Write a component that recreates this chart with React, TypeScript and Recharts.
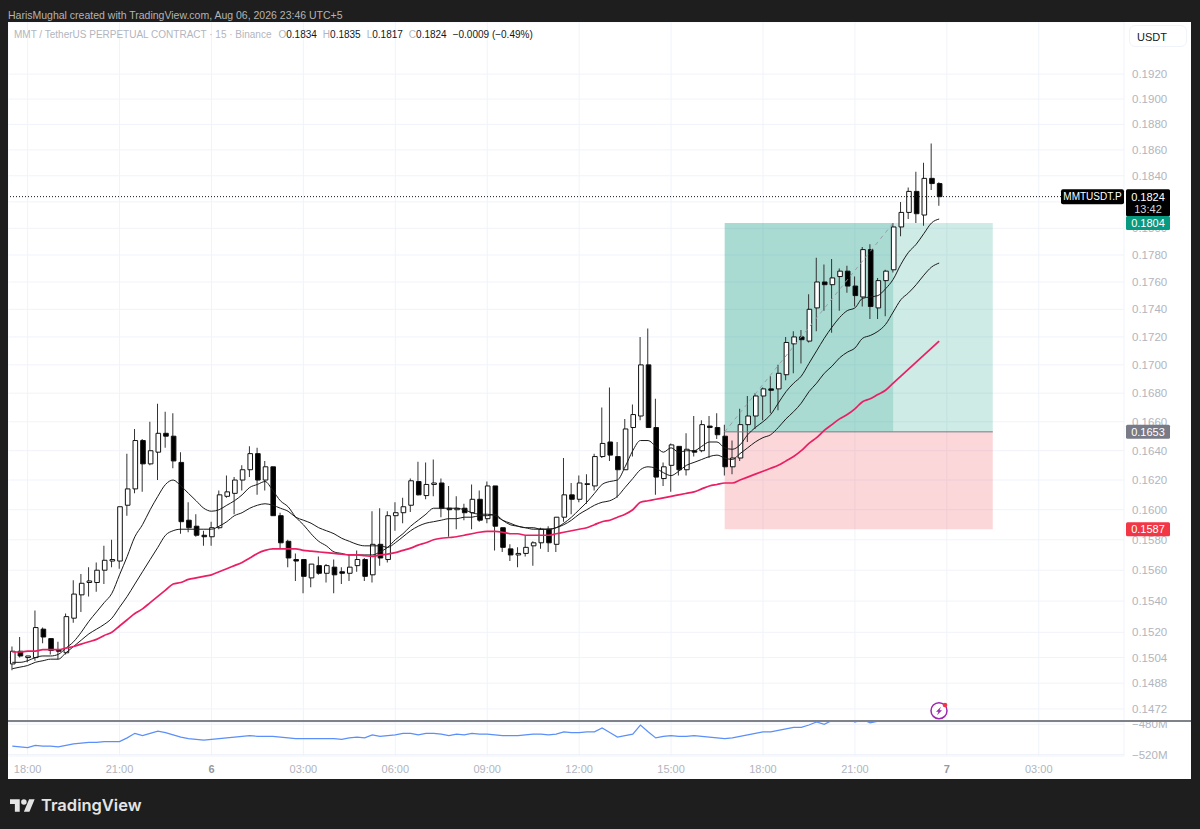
import {
  ComposedChart,
  LineChart,
  Bar,
  Cell,
  Line,
  XAxis,
  YAxis,
  CartesianGrid,
  ReferenceArea,
  ReferenceLine,
} from 'recharts';

const FONT = '"Liberation Sans", Arial, sans-serif';
const GRID = '#f0f3fa';
const AXIS_TEXT = '#b2b5be';

const opens = [
  0.15, 0.1508, 0.1504, 0.1504, 0.1522, 0.1516, 0.1509, 0.1507, 0.1529, 0.1544,
  0.1552, 0.1552, 0.156, 0.1566, 0.1566, 0.1603, 0.1614, 0.1647, 0.1631, 0.1639,
  0.1652, 0.165, 0.1632, 0.1593, 0.1589, 0.1583, 0.1582, 0.1588, 0.1609, 0.1611,
  0.162, 0.1627, 0.1638, 0.162, 0.1629, 0.1596, 0.1579, 0.1567, 0.1567, 0.1555,
  0.1563, 0.1558, 0.1562, 0.1559, 0.1558, 0.1563, 0.1567, 0.1557, 0.1577, 0.1567,
  0.1596, 0.1598, 0.1603, 0.1619, 0.16095, 0.1617, 0.1618, 0.1601, 0.16, 0.1601,
  0.1598, 0.1607, 0.1594, 0.1616, 0.1588, 0.1574, 0.157, 0.1571, 0.1576, 0.1578,
  0.1587, 0.1577, 0.1595, 0.161, 0.1607, 0.1617, 0.1616, 0.1636, 0.1646, 0.1636,
  0.1627, 0.1656, 0.1664, 0.17, 0.1656, 0.1621, 0.163, 0.1643, 0.1627, 0.164,
  0.164, 0.1657, 0.1656, 0.165, 0.1629, 0.1635, 0.1658, 0.1664, 0.1678, 0.1683,
  0.1683, 0.1693, 0.1715, 0.172, 0.1717, 0.1741, 0.176, 0.1758, 0.1764, 0.1768,
  0.1757, 0.1749, 0.1784, 0.1741, 0.1761, 0.1769, 0.1801, 0.1812, 0.1828, 0.181,
  0.1838, 0.1834,
];
const highs = [
  0.1511, 0.1517, 0.1505, 0.1534, 0.1523, 0.1516, 0.1514, 0.1532, 0.15535, 0.15575,
  0.1562, 0.1565, 0.1576, 0.158, 0.1602, 0.1638, 0.1655, 0.1648, 0.166, 0.16725,
  0.1667, 0.1666, 0.1639, 0.1605, 0.1597, 0.1586, 0.1592, 0.1613, 0.1623, 0.1622,
  0.163, 0.1643, 0.1642, 0.1633, 0.1629, 0.1598, 0.158, 0.1571, 0.1567, 0.1564,
  0.1569, 0.1564, 0.1567, 0.1562, 0.157, 0.1573, 0.1568, 0.1599, 0.1601, 0.1599,
  0.1605, 0.1608, 0.1621, 0.16325, 0.1632, 0.1634, 0.1621, 0.1616, 0.1609, 0.1604,
  0.1617, 0.1613, 0.1619, 0.1616, 0.1588, 0.1577, 0.1575, 0.1583, 0.1579, 0.1588,
  0.1589, 0.1595, 0.1635, 0.1618, 0.1623, 0.1624, 0.1638, 0.167, 0.1684, 0.1646,
  0.1662, 0.1672, 0.172, 0.1726, 0.1676, 0.1632, 0.1645, 0.1643, 0.1652, 0.1664,
  0.1661, 0.1664, 0.1666, 0.1658, 0.1647, 0.1669, 0.1678, 0.168, 0.1684, 0.1692,
  0.17, 0.172, 0.1724, 0.1725, 0.1751, 0.1778, 0.1773, 0.1777, 0.177, 0.1772,
  0.1764, 0.1786, 0.1788, 0.1763, 0.1769, 0.1804, 0.182, 0.1831, 0.1843, 0.185,
  0.1865, 0.1835,
];
const lows = [
  0.1496, 0.1504, 0.1501, 0.1502, 0.1513, 0.1506, 0.1503, 0.1506, 0.1526, 0.1533,
  0.1543, 0.1546, 0.1551, 0.1562, 0.1561, 0.1596, 0.1611, 0.1612, 0.163, 0.162,
  0.1642, 0.1628, 0.1584, 0.1585, 0.1582, 0.1576, 0.1576, 0.1587, 0.1608, 0.1597,
  0.1613, 0.1622, 0.161, 0.1613, 0.1596, 0.1574, 0.1562, 0.1553, 0.1545, 0.1549,
  0.1557, 0.1552, 0.1545, 0.1551, 0.1553, 0.1559, 0.1553, 0.1552, 0.1563, 0.1565,
  0.1586, 0.1591, 0.15985, 0.16095, 0.1607, 0.1609, 0.1595, 0.1582, 0.1587, 0.1593,
  0.1587, 0.1592, 0.1591, 0.1573, 0.1572, 0.1566, 0.1562, 0.1569, 0.1563, 0.1574,
  0.1572, 0.1572, 0.1592, 0.1597, 0.1605, 0.1604, 0.1613, 0.1635, 0.1633, 0.1608,
  0.1627, 0.1636, 0.1661, 0.1656, 0.161, 0.1616, 0.1612, 0.1623, 0.1623, 0.1636,
  0.1639, 0.1635, 0.1648, 0.1623, 0.1624, 0.1633, 0.1646, 0.1655, 0.1661, 0.1666,
  0.1668, 0.1689, 0.1694, 0.1701, 0.1716, 0.1724, 0.1739, 0.1723, 0.1739, 0.1752,
  0.1742, 0.1742, 0.1733, 0.1733, 0.1735, 0.1767, 0.1794, 0.1807, 0.1804, 0.1802,
  0.1829, 0.1817,
];
const closes = [
  0.1508, 0.1505, 0.1505, 0.1523, 0.1517, 0.15085, 0.1508, 0.153, 0.15445, 0.15515,
  0.1553, 0.156, 0.15665, 0.1567, 0.1602, 0.1614, 0.1647, 0.1631, 0.164, 0.1652,
  0.165, 0.1633, 0.1592, 0.1588, 0.1583, 0.1582, 0.1588, 0.161, 0.1612, 0.162,
  0.1627, 0.1638, 0.162, 0.1629, 0.1596, 0.1578, 0.1568, 0.1566, 0.1556, 0.1564,
  0.1558, 0.1563, 0.1557, 0.1558, 0.1562, 0.1567, 0.1556, 0.1577, 0.1568, 0.1596,
  0.1598, 0.1602, 0.16195, 0.161, 0.1617, 0.1618, 0.1601, 0.16, 0.1601, 0.1598,
  0.1607, 0.1593, 0.1616, 0.1589, 0.1575, 0.157, 0.1571, 0.1575, 0.1578, 0.1587,
  0.1578, 0.1595, 0.161, 0.1607, 0.1618, 0.16175, 0.1636, 0.1645, 0.1637, 0.1627,
  0.1655, 0.1665, 0.17, 0.1656, 0.1622, 0.1629, 0.1644, 0.1627, 0.1641, 0.1639,
  0.1658, 0.1656, 0.1651, 0.1629, 0.1635, 0.1658, 0.1664, 0.1678, 0.1683, 0.1682,
  0.1694, 0.1716, 0.172, 0.1718, 0.174, 0.176, 0.1758, 0.1763, 0.1768, 0.1757,
  0.175, 0.1784, 0.1742, 0.1761, 0.1768, 0.1801, 0.1812, 0.1828, 0.1811, 0.1838,
  0.1834, 0.1824,
];

const emaFast = [
  0.1501, 0.1501, 0.1502, 0.1504, 0.1505, 0.1505, 0.1506, 0.151, 0.1514, 0.152,
  0.1527, 0.1533, 0.1539, 0.1545, 0.1557, 0.1569, 0.1582, 0.1590, 0.16, 0.1609,
  0.1617, 0.162, 0.1616, 0.1611, 0.1606, 0.1601, 0.1599, 0.16, 0.1603, 0.1606,
  0.161, 0.1615, 0.1617, 0.1619, 0.1613, 0.1606, 0.1602, 0.1595, 0.159, 0.1584,
  0.1579, 0.1576, 0.1572, 0.1571, 0.157, 0.157, 0.157, 0.157, 0.1572, 0.1575,
  0.158, 0.1584, 0.1589, 0.1593, 0.1597, 0.1601, 0.1601, 0.1601, 0.1601, 0.16,
  0.1598, 0.1597, 0.1597, 0.1596, 0.1593, 0.1591, 0.1589, 0.1588, 0.1588, 0.1587,
  0.1587, 0.1588, 0.1591, 0.1595, 0.16, 0.1605, 0.1611, 0.1617, 0.1619, 0.162,
  0.1629, 0.164, 0.1647, 0.1647, 0.1643, 0.1639, 0.1642, 0.1639, 0.164, 0.164,
  0.1643, 0.1646, 0.1646, 0.1642, 0.1641, 0.1644, 0.1651, 0.1656, 0.166, 0.1665,
  0.1673, 0.1681, 0.1687, 0.1692, 0.1701, 0.171, 0.1719, 0.1727, 0.1734, 0.1739,
  0.1741, 0.1748, 0.1749, 0.175, 0.1755, 0.1762, 0.1773, 0.1782, 0.1788, 0.1796,
  0.1804, 0.1807,
];
const emaMid = [
  0.1497, 0.1498, 0.1499, 0.1501, 0.1502, 0.1503, 0.1503, 0.1507, 0.1511, 0.1515,
  0.1519, 0.1522, 0.1525, 0.1529, 0.1536, 0.1543, 0.1551, 0.1559, 0.1567, 0.1575,
  0.1583, 0.1586, 0.1587, 0.1587, 0.1587, 0.1587, 0.1587, 0.1589, 0.1592, 0.1596,
  0.1598, 0.1601, 0.1603, 0.1604, 0.1603, 0.1601, 0.1599, 0.1595, 0.1593, 0.1591,
  0.1588, 0.1586, 0.1584, 0.1581, 0.1579, 0.1577, 0.1576, 0.1576, 0.1576, 0.1575,
  0.1578, 0.1582, 0.1586, 0.1589, 0.1591, 0.1592, 0.1593, 0.1594, 0.1594, 0.1595,
  0.1595, 0.1596, 0.1596, 0.1597, 0.1593, 0.159, 0.1589, 0.1588, 0.1587, 0.1587,
  0.1587, 0.1588, 0.159, 0.1593, 0.1597, 0.16, 0.1603, 0.1605, 0.1606, 0.1609,
  0.1615, 0.1621, 0.1627, 0.1629, 0.1628, 0.1625, 0.1623, 0.1626, 0.163, 0.1632,
  0.1634, 0.1636, 0.1637, 0.1635, 0.1634, 0.1638, 0.1642, 0.1646, 0.1649, 0.1651,
  0.1656, 0.1662, 0.1667, 0.1673, 0.1681, 0.1687, 0.1694, 0.1699, 0.1705, 0.1709,
  0.1712, 0.1719, 0.1721, 0.1724, 0.1729, 0.1738, 0.1747, 0.1752, 0.1758, 0.1765,
  0.1771, 0.1774,
];
const emaSlow = [
  0.15075, 0.15075, 0.1508, 0.1508, 0.1509, 0.1509, 0.1509, 0.151, 0.1511, 0.15125,
  0.1514, 0.15155, 0.1518, 0.152, 0.1524, 0.1528, 0.1532, 0.1535, 0.1539, 0.1543,
  0.1547, 0.1551, 0.1552, 0.1554, 0.1555, 0.1556, 0.1557, 0.1559, 0.1561, 0.1563,
  0.1565, 0.1568, 0.1571, 0.1573, 0.1574, 0.1574, 0.1574, 0.1574, 0.1573, 0.15725,
  0.1572, 0.15715, 0.1571, 0.15705, 0.157, 0.157, 0.15695, 0.1569, 0.157, 0.15705,
  0.15715, 0.1573, 0.15745, 0.15765, 0.1578, 0.158, 0.1581, 0.15815, 0.1582, 0.1583,
  0.1584, 0.1585, 0.15855, 0.15855, 0.1585, 0.1584, 0.1584, 0.1583, 0.1583, 0.1583,
  0.1583, 0.1584, 0.1585, 0.1586, 0.1587, 0.1588, 0.159, 0.1592, 0.1593, 0.1595,
  0.1597, 0.16, 0.1605, 0.1606, 0.1607, 0.1608, 0.1609, 0.161, 0.1611, 0.1612,
  0.1614, 0.1616, 0.1617, 0.1618, 0.1618, 0.162, 0.1622, 0.1624, 0.1626, 0.1628,
  0.163, 0.1633, 0.1636, 0.164, 0.1645, 0.1649, 0.1654, 0.1658, 0.1662, 0.1665,
  0.1669, 0.1674, 0.1676, 0.1679, 0.1682, 0.1687, 0.1692, 0.1697, 0.1702, 0.1707,
  0.1712, 0.1717,
];

// lower pane, millions
const lowerPane = [
  -509, -510, -511, -508, -509, -509, -510, -508, -506, -505,
  -504, -504, -503, -503, -503, -498, -492, -495, -492, -489,
  -491, -494, -497, -499, -500, -501, -500, -499, -498, -497,
  -496, -495, -496, -496, -496, -497, -498, -499, -499, -499,
  -499, -499, -499, -500, -498, -497, -498, -494, -496, -495,
  -494, -492, -492, -494, -492, -492, -493, -495, -493, -494,
  -492, -493, -493, -494, -495, -495, -495, -494, -493, -493,
  -494, -493, -490, -491, -491, -490, -490, -485, -491, -497,
  -495, -493, -481, -490, -498, -496, -495, -496, -496, -495,
  -496, -497, -498, -499, -498, -496, -494, -492, -490, -490,
  -488, -486, -484, -484, -481, -477, -480, -475, -470, -472,
  -477, -474, -478, -476, -468, -466, -462, -460, -458, -455,
  -452, -450,
];

const priceTicks = [
  0.192, 0.19, 0.188, 0.186, 0.184, 0.182, 0.18, 0.178, 0.176, 0.174, 0.172, 0.17,
  0.168, 0.166, 0.164, 0.162, 0.16, 0.158, 0.156, 0.154, 0.152, 0.1504, 0.1488, 0.1472,
];
const lowerTicks = [-480, -520];
const timeSlots = [2, 14, 26, 38, 50, 62, 74, 86, 98, 110, 122, 134];
const timeLabels = ['18:00', '21:00', '6', '03:00', '06:00', '09:00', '12:00', '15:00', '18:00', '21:00', '7', '03:00'];

const SLOT_DOMAIN: [number, number] = [-0.56, 145.13];
const PRICE_DOMAIN: [number, number] = [0.14646, 0.19623];

const rows = opens.map((open, i) => ({
  slot: i,
  wick: [lows[i], highs[i]],
  body: [Math.min(open, closes[i]), Math.max(open, closes[i])],
  up: closes[i] >= open,
  emaFast: emaFast[i],
  emaMid: emaMid[i],
  emaSlow: emaSlow[i],
  lower: lowerPane[i],
}));

function PriceTag({ viewBox, fill, text }: any) {
  const x = viewBox.x + viewBox.width + 2;
  const y = viewBox.y;
  return (
    <g>
      <rect x={x} y={y - 7} width={44} height={14} rx={1.5} fill={fill} />
      <text x={x + 22} y={y + 4} textAnchor="middle" fontSize={11} fontFamily={FONT} fill="#ffffff">
        {text}
      </text>
    </g>
  );
}

function LastPriceTag({ viewBox }: any) {
  const right = viewBox.x + viewBox.width;
  const y = viewBox.y;
  return (
    <g>
      <rect x={right - 63} y={y - 7.5} width={63} height={15} rx={2} fill="#000000" />
      <text x={right - 31.5} y={y + 3.5} textAnchor="middle" fontSize={10} fontFamily={FONT} fill="#ffffff">
        MMTUSDT.P
      </text>
      <rect x={right + 2} y={y - 7.5} width={44} height={27} rx={1.5} fill="#000000" />
      <text x={right + 24} y={y + 4} textAnchor="middle" fontSize={11} fontFamily={FONT} fill="#ffffff">
        0.1824
      </text>
      <text x={right + 24} y={y + 16} textAnchor="middle" fontSize={11} fontFamily={FONT} fill="#d1d4dc">
        13:42
      </text>
    </g>
  );
}

function TimeTick({ x, y, payload }: any) {
  const label = timeLabels[timeSlots.indexOf(payload.value)];
  const isDay = label.length === 1;
  return (
    <text
      x={x}
      y={y + 9}
      textAnchor="middle"
      fontSize={11}
      fontFamily={FONT}
      fontWeight={isDay ? 700 : 400}
      fill={isDay ? '#9598a1' : AXIS_TEXT}
    >
      {label}
    </text>
  );
}

export default function App() {
  return (
    <div style={{ position: 'absolute', left: 0, top: 0, width: 1200, height: 829, background: '#1e1e1e', fontFamily: FONT, overflow: 'hidden' }}>
      <div style={{ position: 'absolute', left: 8, top: 9, fontSize: 10.5, color: '#b4b4b4', whiteSpace: 'nowrap' }}>
        HarisMughal created with TradingView.com, Aug 06, 2026 23:46 UTC+5
      </div>
      <div style={{ position: 'absolute', left: 8, top: 22, width: 1183, height: 757, background: '#ffffff' }} />

      <div style={{ position: 'absolute', left: 8, top: 22 }}>
        <ComposedChart width={1183} height={699} data={rows} margin={{ top: 0, right: 0, bottom: 0, left: 0 }}>
          <CartesianGrid stroke={GRID} xAxisId="body" yAxisId="price" />
          <XAxis xAxisId="body" dataKey="slot" type="number" domain={SLOT_DOMAIN} ticks={timeSlots} allowDataOverflow hide />
          <XAxis xAxisId="wick" dataKey="slot" type="number" domain={SLOT_DOMAIN} allowDataOverflow hide />
          <YAxis
            yAxisId="price"
            orientation="right"
            width={67}
            scale="log"
            domain={PRICE_DOMAIN}
            ticks={priceTicks}
            interval={0}
            allowDataOverflow
            axisLine={false}
            tickLine={false}
            tick={{ fill: AXIS_TEXT, fontSize: 11.5, fontFamily: FONT }}
            tickFormatter={(v: number) => v.toFixed(4)}
          />
          <ReferenceArea xAxisId="body" yAxisId="price" x1={93} x2={115} y1={0.1653} y2={0.1804} fill="#089981" fillOpacity={0.35} stroke="none" />
          <ReferenceArea xAxisId="body" yAxisId="price" x1={115} x2={128} y1={0.1653} y2={0.1804} fill="#089981" fillOpacity={0.2} stroke="none" />
          <ReferenceArea xAxisId="body" yAxisId="price" x1={93} x2={128} y1={0.1587} y2={0.1653} fill="#f23645" fillOpacity={0.2} stroke="none" />
          <ReferenceLine
            xAxisId="body"
            yAxisId="price"
            segment={[{ x: 93, y: 0.1653 }, { x: 128, y: 0.1653 }]}
            stroke="#787b86"
            strokeWidth={1}
          />
          <ReferenceLine
            xAxisId="body"
            yAxisId="price"
            segment={[{ x: 93, y: 0.1653 }, { x: 115, y: 0.1804 }]}
            stroke="#9a9ea8"
            strokeDasharray="4 4"
          />
          <Bar xAxisId="wick" yAxisId="price" dataKey="wick" barSize={1} fill="#333333" isAnimationActive={false} />
          <Bar xAxisId="body" yAxisId="price" dataKey="body" barSize={4.6} isAnimationActive={false}>
            {rows.map((row) => (
              <Cell key={row.slot} fill={row.up ? '#ffffff' : '#000000'} stroke="#111111" strokeWidth={1} />
            ))}
          </Bar>
          <Line xAxisId="body" yAxisId="price" dataKey="emaFast" type="monotone" stroke="#1a1a1a" strokeWidth={1} dot={false} isAnimationActive={false} />
          <Line xAxisId="body" yAxisId="price" dataKey="emaMid" type="monotone" stroke="#1a1a1a" strokeWidth={1} dot={false} isAnimationActive={false} />
          <Line xAxisId="body" yAxisId="price" dataKey="emaSlow" type="monotone" stroke="#ea1f63" strokeWidth={1.7} dot={false} isAnimationActive={false} />
          <ReferenceLine yAxisId="price" y={0.1824} stroke="#131722" strokeDasharray="1 2" />
        </ComposedChart>
      </div>

      <div style={{ position: 'absolute', left: 8, top: 722 }}>
        <LineChart width={1183} height={57} data={rows} margin={{ top: 0, right: 0, bottom: 0, left: 0 }}>
          <CartesianGrid stroke={GRID} />
          <XAxis
            dataKey="slot"
            type="number"
            domain={SLOT_DOMAIN}
            ticks={timeSlots}
            interval={0}
            allowDataOverflow
            height={23}
            axisLine={false}
            tickLine={false}
            tick={<TimeTick />}
          />
          <YAxis
            orientation="right"
            width={67}
            domain={[-522, -477]}
            ticks={lowerTicks}
            interval={0}
            allowDataOverflow
            axisLine={false}
            tickLine={false}
            tick={{ fill: AXIS_TEXT, fontSize: 11.5, fontFamily: FONT }}
            tickFormatter={(v: number) => `\u2212${Math.abs(v)}M`}
          />
          <Line dataKey="lower" type="linear" stroke="#5b8ff9" strokeWidth={1.2} dot={false} isAnimationActive={false} />
        </LineChart>
      </div>

      <div style={{ position: 'absolute', left: 8, top: 720, width: 1183, height: 2, background: '#7f8288' }} />

      {/* price tags sit above the axis labels, so they get their own chart on the same scale */}
      <div style={{ position: 'absolute', left: 8, top: 22 }}>
        <ComposedChart width={1183} height={699} data={rows} margin={{ top: 0, right: 0, bottom: 0, left: 0 }}>
          <XAxis dataKey="slot" type="number" domain={SLOT_DOMAIN} allowDataOverflow hide />
          <YAxis orientation="right" width={67} scale="log" domain={PRICE_DOMAIN} allowDataOverflow axisLine={false} tickLine={false} tick={false} />
          <ReferenceLine y={0.1824} stroke="none" label={<LastPriceTag />} />
          <ReferenceLine y={0.1804} stroke="none" label={<PriceTag fill="#089981" text="0.1804" />} />
          <ReferenceLine y={0.1653} stroke="none" label={<PriceTag fill="#787b86" text="0.1653" />} />
          <ReferenceLine y={0.1587} stroke="none" label={<PriceTag fill="#f23645" text="0.1587" />} />
        </ComposedChart>
      </div>

      <div style={{ position: 'absolute', left: 14, top: 29, fontSize: 10, whiteSpace: 'nowrap', color: '#b2b5be' }}>
        MMT / TetherUS PERPETUAL CONTRACT · 15 · Binance
        <span style={{ marginLeft: 7 }}>O</span><span style={{ color: '#131722' }}>0.1834</span>
        <span style={{ marginLeft: 6 }}>H</span><span style={{ color: '#131722' }}>0.1835</span>
        <span style={{ marginLeft: 6 }}>L</span><span style={{ color: '#131722' }}>0.1817</span>
        <span style={{ marginLeft: 6 }}>C</span><span style={{ color: '#131722' }}>0.1824</span>
        <span style={{ marginLeft: 6, color: '#131722' }}>−0.0009 (−0.49%)</span>
      </div>

      <div style={{ position: 'absolute', left: 1129, top: 25, width: 58, height: 22, boxSizing: 'border-box', border: '1px solid #f0f3fa', borderRadius: 6, background: '#ffffff', fontSize: 11, lineHeight: '22px', color: '#131722', paddingLeft: 7 }}>
        USDT
      </div>

      <svg style={{ position: 'absolute', left: 929, top: 700 }} width={20} height={20} viewBox="0 0 20 20">
        <circle cx={10} cy={10.7} r={8} fill="#ffffff" stroke="#9c27b0" strokeWidth={1.5} />
        <path d="M12 6.7 L7 11.7 L9.5 11.7 L8 15.2 L13 10.2 L10.5 10.2 Z" fill="#9c27b0" />
        <circle cx={16} cy={5} r={2.3} fill="#f23645" />
      </svg>

      <svg style={{ position: 'absolute', left: 10, top: 796 }} width={25} height={16} viewBox="0 0 36 22">
        <path d="M14 22H7V11H0V4h14v18zM28 22h-8l7.5-18h8L28 22z" fill="#e4e4e4" />
        <circle cx={20} cy={8} r={4} fill="#e4e4e4" />
      </svg>
      <div style={{ position: 'absolute', left: 41, top: 795, fontSize: 16.5, fontFamily: 'Inter, sans-serif', fontWeight: 600, color: '#e4e4e4', whiteSpace: 'nowrap' }}>
        TradingView
      </div>
    </div>
  );
}
